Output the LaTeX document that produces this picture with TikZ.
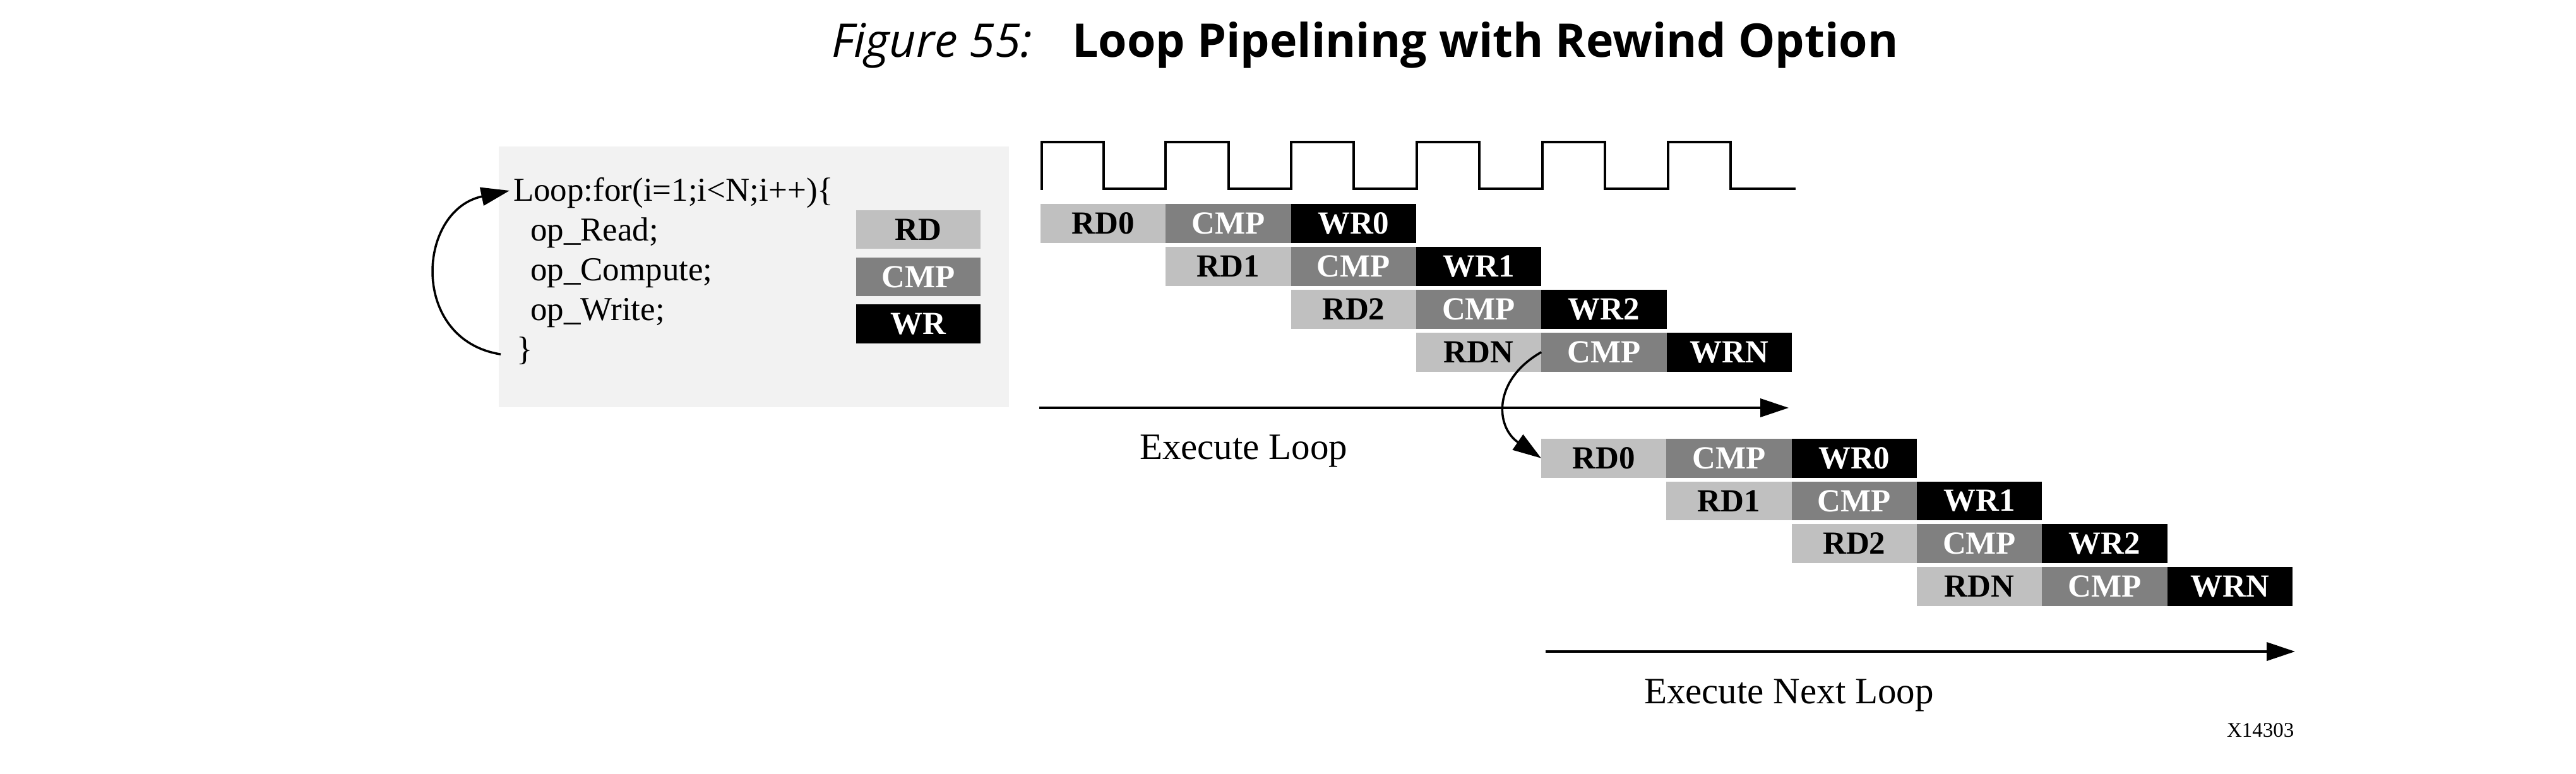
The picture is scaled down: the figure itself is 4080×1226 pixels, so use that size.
\documentclass[tikz,border=0pt]{standalone}
\usepackage{fontspec}
\setmainfont{Liberation Serif}
\newfontfamily\titlefont{Open Sans}
\usetikzlibrary{arrows.meta,calc}
\definecolor{rdgray}{HTML}{C0C0C0}
\definecolor{cmpgray}{HTML}{808080}
\definecolor{panelgray}{HTML}{F2F2F2}
\begin{document}
\begin{tikzpicture}[x=1pt,y=-1pt,
  txt/.style={inner sep=0pt, outer sep=0pt, anchor=base west},
  codetxt/.style={txt, font=\fontsize{53}{53}\selectfont},
  labeltxt/.style={txt, font=\fontsize{59}{59}\selectfont},
  stage/.style={minimum width=198.3pt, minimum height=61.5pt, inner sep=0pt, outer sep=0pt, anchor=north west, font=\fontsize{51}{51}\selectfont\bfseries},
  rdbox/.style={stage, fill=rdgray, text=black},
  cmpbox/.style={stage, fill=cmpgray, text=white},
  wrbox/.style={stage, fill=black, text=white},
  legbox/.style={minimum width=197pt, minimum height=61.5pt, inner sep=0pt, outer sep=0pt, font=\fontsize{51}{51}\selectfont\bfseries},
  arr/.style={line width=4pt, -{Triangle[length=45pt,width=29pt]}},
  curvearr/.style={line width=3.5pt, -{Triangle[length=45pt,width=29pt]}},
  clk/.style={line width=4pt, line join=miter}
]
\fill[white] (0,0) rectangle (4080,1226);
\useasboundingbox (0,0) rectangle (4080,1226);

% title
\node[txt, font=\titlefont\fontsize{73.5}{73.5}\selectfont\itshape] (fig) at (1317,90) {Figure 55:};
\node[txt, font=\titlefont\fontsize{73.5}{73.5}\selectfont\bfseries] (title) at (1698,90) {Loop Pipelining with Rewind Option};

% code panel
\fill[panelgray] (790,232) rectangle (1598,645);
\node[codetxt] (loop) at (813,318) {Loop:for(i=1;i<N;i++)\{};
\node[codetxt] (opread) at (840,381) {op\_Read;};
\node[codetxt] (opcomp) at (840,444) {op\_Compute;};
\node[codetxt] (opwrite) at (840,507) {op\_Write;};
\node[codetxt] (brace) at (818,570) {\}};

\node[legbox, fill=rdgray, text=black] (legrd) at (1454.5,363.5) {RD};
\node[legbox, fill=cmpgray, text=white] (legcmp) at (1454.5,438.5) {CMP};
\node[legbox, fill=black, text=white] (legwr) at (1454.5,513) {WR};

\draw[curvearr] ($(brace.west)+(-25,6)$) .. controls ($(brace.west)+(-170,-17)$) and ($(loop.west)+(-153,28)$) .. ($(loop.west)+(-6,-3)$);

% clock
\draw[clk] (1650,301) -- (1650,225) -- (1748,225) -- (1748,299) -- (1846,299) -- (1846,225) -- (1946,225) -- (1946,299) -- (2045,299) -- (2045,225) -- (2144,225) -- (2144,299) -- (2244,299) -- (2244,225) -- (2343,225) -- (2343,299) -- (2443,299) -- (2443,225) -- (2542,225) -- (2542,299) -- (2642,299) -- (2642,225) -- (2741,225) -- (2741,299) -- (2844,299);

% pipeline stages
\foreach \g/\gx/\gy/\gdy in {1/1648/323/68, 2/2441/695/67.7} {
  \foreach \r/\lab in {0/0,1/1,2/2,3/N} {
    \node[rdbox] (g\g-r\r-rd) at ({\gx+\r*198.3},{\gy+\r*\gdy}) {RD\lab};
    \node[cmpbox] (g\g-r\r-cmp) at ({\gx+(\r+1)*198.3},{\gy+\r*\gdy}) {CMP};
    \node[wrbox] (g\g-r\r-wr) at ({\gx+(\r+2)*198.3},{\gy+\r*\gdy}) {WR\lab};
  }
}

% execute arrows
\coordinate (el1) at (1646,646);
\coordinate (el2) at (2833,646);
\draw[arr] (el1) -- (el2);
\node[labeltxt] (execloop) at (1805,727) {Execute Loop};

\draw[curvearr] (g1-r3-rd.east) .. controls ($(g1-r3-rd.east)+(-77,44)$) and ($(g2-r0-rd.west)+(-73,-50)$) .. (g2-r0-rd.west);

\coordinate (en1) at (2448,1032);
\coordinate (en2) at (3635,1032);
\draw[arr] (en1) -- (en2);
\node[labeltxt] (execnext) at (2604,1114) {Execute Next Loop};

\node[txt, font=\fontsize{33}{33}\selectfont] (xid) at (3527,1167) {X14303};
\end{tikzpicture}
\end{document}
